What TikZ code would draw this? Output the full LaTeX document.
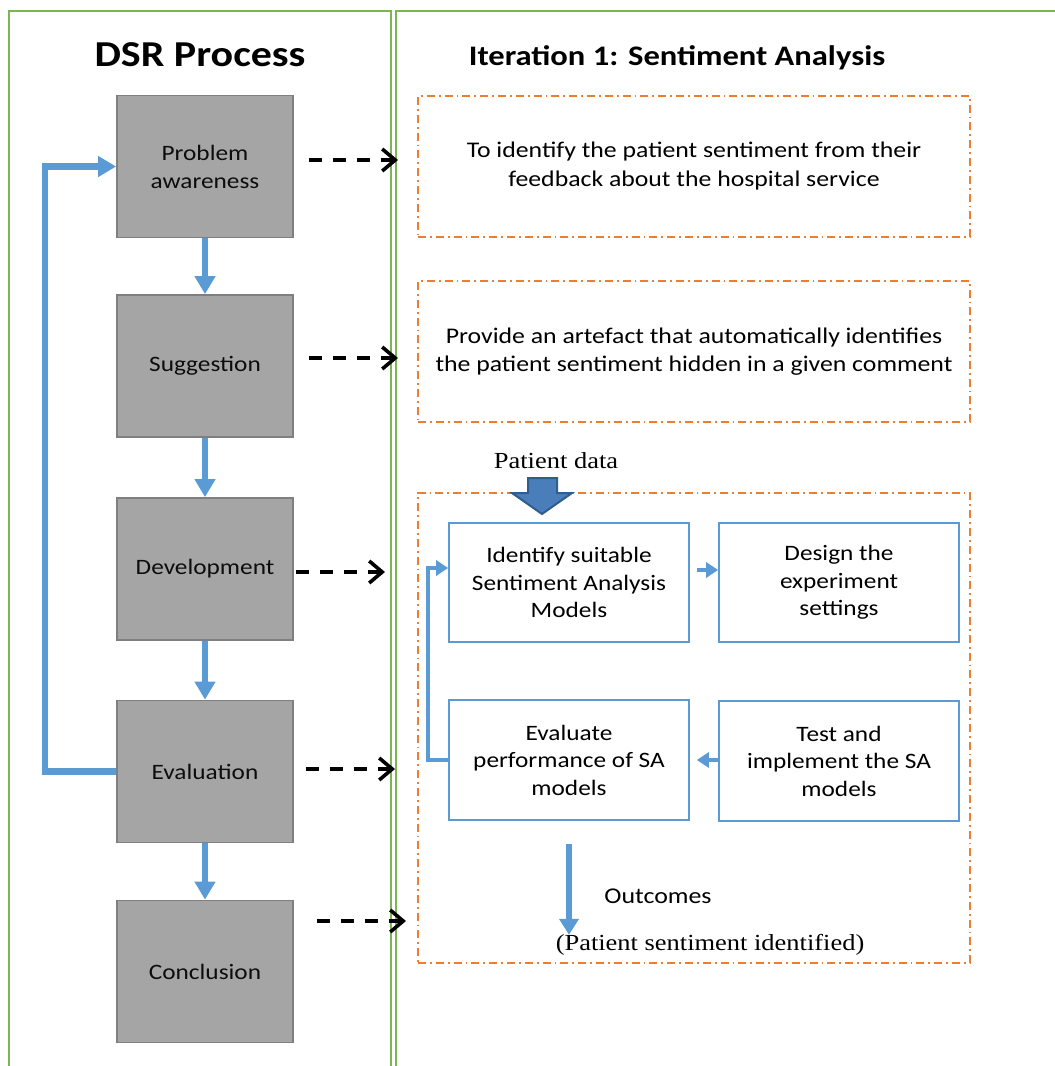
\documentclass[tikz,border=0pt]{standalone}
\usepackage{fontspec}
\setmainfont[FakeStretch=1.15]{Carlito}
\newfontfamily\timesface[FakeStretch=1.15]{Liberation Serif}
\usetikzlibrary{arrows.meta,calc}

\definecolor{panelgreen}{HTML}{7CB552}
\definecolor{stepgray}{HTML}{A5A5A5}
\definecolor{stepedge}{HTML}{7F7F7F}
\definecolor{flowblue}{HTML}{5B9BD5}
\definecolor{darkblue}{HTML}{2F5D8E}
\definecolor{inputblue}{HTML}{4A7EBB}
\definecolor{phaseorange}{HTML}{ED7D31}

\newcommand{\fsz}[2]{\fontsize{#1}{#2}\selectfont}

\tikzset{
  panel/.style={draw=panelgreen, line width=1.6pt},
  stepbox/.style={draw=stepedge, fill=stepgray, line width=1.8pt,
    minimum width=176pt, minimum height=142pt, align=center,
    font=\fsz{22}{28}, text=black!95},
  phasebox/.style={draw=phaseorange, line width=1.6pt,
    dash pattern=on 8pt off 4pt on 1.8pt off 4pt, align=center},
  taskbox/.style={draw=flowblue, line width=1.6pt, minimum width=240pt,
    minimum height=119pt, align=center, font=\fsz{22}{27.5}},
  flow/.style={draw=flowblue, line width=6.5pt,
    -{Triangle[length=18pt,width=20pt]}},
  smallflow/.style={draw=flowblue, line width=4.5pt,
    -{Triangle[length=12pt,width=15pt]}},
  maps/.style={draw=black, line width=3.8pt, dash pattern=on 13pt off 11pt,
    -{Straight Barb[length=13pt,width=22pt,line width=3.6pt]}},
}

\begin{document}
\begin{tikzpicture}[x=1pt,y=-1pt]
\useasboundingbox (0,0) rectangle (1055,1066);
\clip (0,0) rectangle (1055,1066);

% two column panels
\draw[panel] (9,1080) -- (9,11) -- (391,11) -- (391,1080);
\draw[panel] (396,1080) -- (396,11) -- (1070,11);

% column titles
\node[font=\bfseries\fsz{36.5}{40}] (dsr) at (200,55) {DSR Process};
\node[font=\bfseries\fsz{28.3}{32}] (iter) at (677,58) {Iteration 1: Sentiment Analysis};

% DSR steps
\node[stepbox] (pa) at (205,166.5) {Problem\\awareness};
\node[stepbox] (sg) at (205,366) {Suggestion};
\node[stepbox] (dv) at (205,569) {Development};
\node[stepbox] (ev) at (205,771.5) {Evaluation};
\node[stepbox] (cc) at (205,971.5) {Conclusion};

\draw[flow] (pa.south) -- (sg.north);
\draw[flow] (sg.south) -- (dv.north);
\draw[flow] (dv.south) -- (ev.north);
\draw[flow] (ev.south) -- (cc.north);
\draw[flow] (ev.west) -- (45,771.5) |- (pa.west);

% iteration phases
\node[phasebox, minimum width=552pt, minimum height=141pt,
  font=\fsz{22.4}{29}] (ph1) at (694,166.5)
  {To identify the patient sentiment from their\\feedback about the hospital service};
\node[phasebox, minimum width=552pt, minimum height=141pt,
  font=\fsz{22.4}{27.5}] (ph2) at (694,351.5)
  {Provide an artefact that automatically identifies\\the patient sentiment hidden in a given comment};
\node[phasebox, minimum width=552pt, minimum height=470pt] (ph3) at (694,728) {};

% dashed mappings from steps to phases
\coordinate (m1) at (398,160);
\coordinate (m2) at (398,358);
\coordinate (m3) at (385,572);
\coordinate (m4) at (395,769);
\coordinate (m5) at (406,921);
\draw[maps] (pa.east |- m1) ++(15,0) -- (m1);
\draw[maps] (sg.east |- m2) ++(15,0) -- (m2);
\draw[maps] (dv.east |- m3) ++(2,0) -- (m3);
\draw[maps] (ev.east |- m4) ++(12,0) -- (m4);
\draw[maps] (cc.east |- m5) ++(23,0) -- (m5);

% development tasks
\node[taskbox] (id) at (569,582.5) {Identify suitable\\Sentiment Analysis\\Models};
\node[taskbox] (ds) at (839,582.5) {Design the\\experiment\\settings};
\node[taskbox, minimum height=120pt] (ea) at (569,760) {Evaluate\\performance of SA\\models};
\node[taskbox, minimum height=120pt] (ti) at (839,761) {Test and\\implement the SA\\models};

\draw[smallflow] ([xshift=7pt,yshift=12.5pt]id.east) -- ([yshift=12.5pt]ds.west);
\draw[smallflow] (ti.west |- ea.east) -- ([xshift=7pt]ea.east);
\draw[smallflow] (ea.west) -- ++(-20,0) |- ([yshift=14.5pt]id.west);

% input data
\node[font=\timesface\fsz{23}{26}] (pd) at (556,461) {Patient data};
\draw[draw=darkblue, line width=2pt, fill=inputblue, line join=miter]
  (528,478) -- (557,478) -- (557,493) -- (572,493) -- (542,514)
  -- (512,493) -- (528,493) -- cycle;

% outcome
\node[font=\fsz{22.5}{25}] (oc) at (658,896) {Outcomes};
\node[font=\timesface\fsz{23}{26}] (ps) at (710,945) {(Patient sentiment identified)};
\draw[draw=flowblue, line width=6pt, -{Triangle[length=16pt,width=19pt]}]
  ([yshift=-23pt]ea.south) -- ++(0,91);
\end{tikzpicture}
\end{document}
